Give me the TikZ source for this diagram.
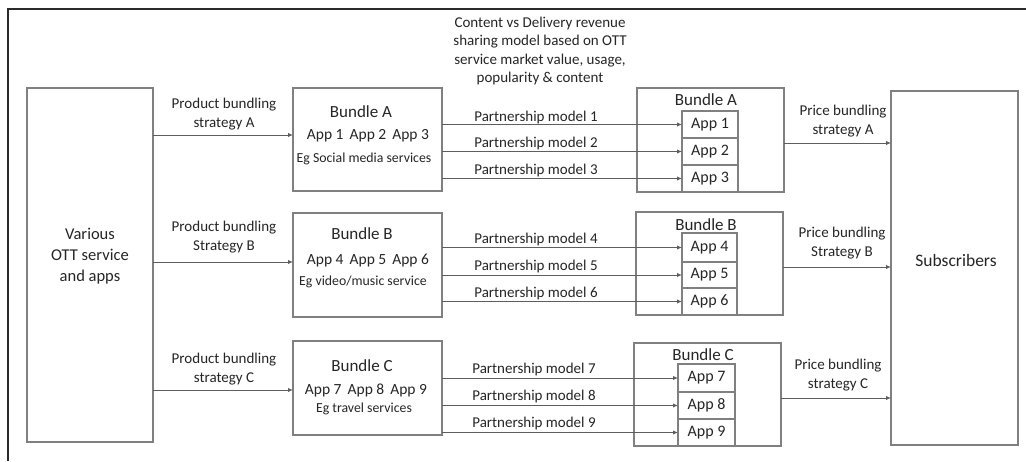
\documentclass[tikz,border=0pt]{standalone}
\usepackage{fontspec}
\setmainfont{Carlito}
\usetikzlibrary{arrows.meta}
\definecolor{txt}{HTML}{262626}
\definecolor{ln}{HTML}{5E5E5E}
\definecolor{bx}{HTML}{808080}
\definecolor{frm}{HTML}{2A2A2A}
\tikzset{
  box/.style={draw=bx, line width=1.3pt, inner sep=0pt, outer sep=0pt},
  cell/.style={draw=bx, line width=1.2pt, inner sep=0pt, outer sep=0pt, minimum height=27pt, font=\fontsize{16}{18}\selectfont, text=txt},
  lbl/.style={text=txt, align=center, inner sep=0pt, font=\fontsize{15}{19}\selectfont},
  ttl/.style={text=txt, align=center, inner sep=0pt, font=\fontsize{17}{19}\selectfont},
  apps/.style={text=txt, inner sep=0pt, font=\fontsize{15.5}{17}\selectfont},
  eg/.style={text=txt, inner sep=0pt, font=\fontsize{13.8}{15}\selectfont},
  big/.style={text=txt, align=center, inner sep=0pt, font=\fontsize{16.5}{21}\selectfont},
  arr/.style={draw=ln, line width=1pt, -{Latex[length=5pt,width=4.5pt]}}
}
\begin{document}
\begin{tikzpicture}[x=1pt,y=-1pt]
\useasboundingbox[fill=white] (0,0) rectangle (1026,461);
% outer frame (top and left visible)
\coordinate (f1) at (1026,9);
\coordinate (f0) at (8,9);
\coordinate (f2) at (8,461);
\draw[frm, line width=2.5pt] (f1) -- (f0) -- (f2);

% main boxes
\node[box, minimum width=126pt, minimum height=354pt] (ott) at (90,265) {};
\node[big] (ottl) at (90,256) {Various\\OTT service\\and apps};
\node[box, minimum width=127pt, minimum height=354pt] (sub) at (954.5,268) {};
\node[big, font=\fontsize{17.5}{21}\selectfont] (subl) at (956,260) {Subscribers};

% left bundles
\node[box, minimum width=149pt, minimum height=103pt] (bA) at (367.5,139.5) {};
\node[box, minimum width=149pt, minimum height=104pt] (bB) at (367.5,265) {};
\node[box, minimum width=149pt, minimum height=94pt] (bC) at (367.5,388) {};
\node[ttl] (bAt) at (361,112) {Bundle A};
\node[apps] (bAa) at (368,136) {App 1\, App 2\, App 3};
\node[eg] (bAe) at (364,159) {Eg Social media services};
\node[ttl] (bBt) at (362,234) {Bundle B};
\node[apps] (bBa) at (368,261) {App 4\, App 5\, App 6};
\node[eg] (bBe) at (363,282) {Eg video/music service};
\node[ttl] (bCt) at (362,366) {Bundle C};
\node[apps] (bCa) at (366,390) {App 7\, App 8\, App 9};
\node[eg] (bCe) at (364,409) {Eg travel services};

% right bundles
\node[box, minimum width=147pt, minimum height=104pt] (rA) at (710.5,140) {};
\node[box, minimum width=147pt, minimum height=103pt] (rB) at (709.5,263.5) {};
\node[box, minimum width=147pt, minimum height=103pt] (rC) at (707.5,394.5) {};
\node[ttl] (rAt) at (706,100) {Bundle A};
\node[ttl] (rBt) at (706,225) {Bundle B};
\node[ttl] (rCt) at (703,355) {Bundle C};

\node[cell, minimum width=56pt] (a1) at (710,124.5) {App 1};
\node[cell, minimum width=56pt] (a2) at (710,151.5) {App 2};
\node[cell, minimum width=56pt] (a3) at (710,178.5) {App 3};
\node[cell, minimum width=55pt, minimum height=29pt] (a4) at (709.5,247.5) {App 4};
\node[cell, minimum width=55pt, minimum height=26pt] (a5) at (709.5,275) {App 5};
\node[cell, minimum width=55pt] (a6) at (709.5,301.5) {App 6};
\node[cell, minimum width=57pt, minimum height=28pt] (a7) at (706.5,378) {App 7};
\node[cell, minimum width=57pt] (a8) at (706.5,405.5) {App 8};
\node[cell, minimum width=57pt] (a9) at (706.5,432.5) {App 9};

% product bundling arrows
\coordinate (pA) at (0,135);
\coordinate (pB) at (0,262);
\coordinate (pC) at (0,390);
\draw[arr] (ott.east |- pA) -- (bA.west |- pA);
\draw[arr] (ott.east |- pB) -- (bB.west |- pB);
\draw[arr] (ott.east |- pC) -- (bC.west |- pC);
\node[lbl] (pAl) at (224,114) {Product bundling\\strategy A};
\node[lbl] (pBl) at (224,237) {Product bundling\\Strategy B};
\node[lbl] (pCl) at (224,369) {Product bundling\\strategy C};

% partnership arrows
\foreach \b/\c in {bA/a1,bA/a2,bA/a3,bB/a4,bB/a5,bB/a6,bC/a7,bC/a8,bC/a9}{
  \draw[arr] (\b.east |- \c.west) -- (\c.west);
}
\node[lbl] (m1) at (536,117) {Partnership model 1};
\node[lbl] (m2) at (536,143.5) {Partnership model 2};
\node[lbl] (m3) at (536,170) {Partnership model 3};
\node[lbl] (m4) at (536,239.5) {Partnership model 4};
\node[lbl] (m5) at (536,266) {Partnership model 5};
\node[lbl] (m6) at (536,293) {Partnership model 6};
\node[lbl] (m7) at (534,369.5) {Partnership model 7};
\node[lbl] (m8) at (534,396.5) {Partnership model 8};
\node[lbl] (m9) at (534,423.5) {Partnership model 9};

% price bundling arrows
\coordinate (qA) at (0,143);
\coordinate (qB) at (0,267);
\coordinate (qC) at (0,398);
\draw[arr] (rA.east |- qA) -- (sub.west |- qA);
\draw[arr] (rB.east |- qB) -- (sub.west |- qB);
\draw[arr] (rC.east |- qC) -- (sub.west |- qC);
\node[lbl] (qAl) at (843,121.5) {Price bundling\\strategy A};
\node[lbl] (qBl) at (842,243) {Price bundling\\Strategy B};
\node[lbl] (qCl) at (838,375.5) {Price bundling\\strategy C};

% top note
\node[lbl, font=\fontsize{15}{18.5}\selectfont] (note) at (540,51) {Content vs Delivery revenue\\sharing model based on OTT\\service market value, usage,\\popularity \& content};
\end{tikzpicture}
\end{document}
